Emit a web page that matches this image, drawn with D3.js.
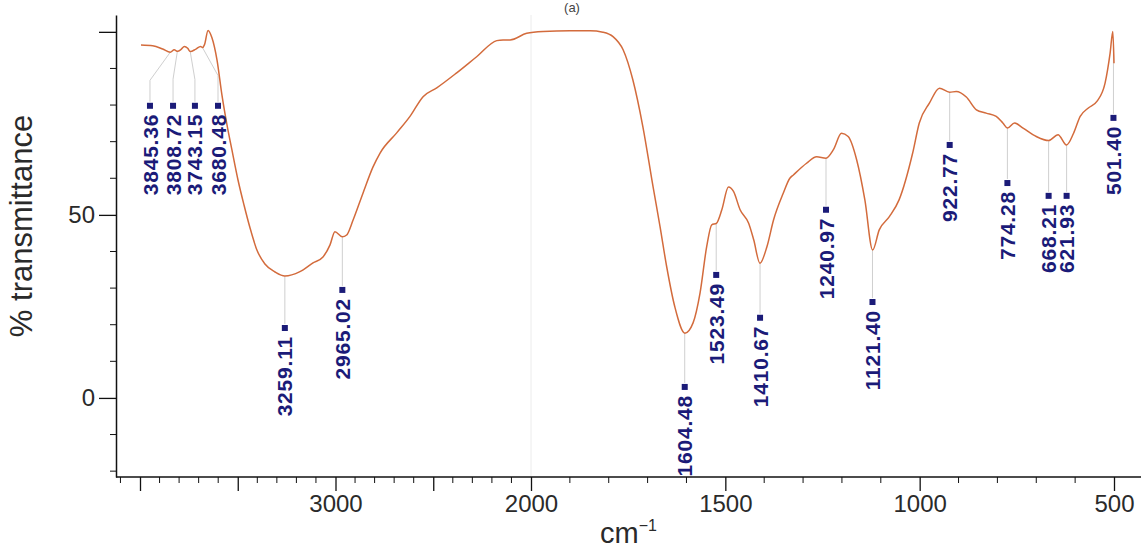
<!DOCTYPE html>
<html>
<head>
<meta charset="utf-8">
<script src="https://cdn.jsdelivr.net/npm/d3@7"></script>
<style>
    html, body {margin: 0; padding: 0; background: #fff;}
    #vis1 {width: 1141px; height: 551px; overflow: hidden;}
    text {font-family: "Liberation Sans", Arial, Helvetica, sans-serif;}
</style>
</head>
<body>
<div id="vis1"></div>
<script>
/*
Data
*/

// wavenumber (cm-1) of each traced point of the spectrum
const wavenumber = [3995, 3935, 3884, 3845, 3825, 3808, 3790, 3773, 3756, 3743,
    3714, 3690, 3680, 3670, 3652, 3632, 3606, 3581, 3555, 3530,
    3499, 3468, 3437, 3402, 3361, 3309, 3259, 3182, 3115, 3064,
    3028, 3003, 2965, 2943, 2910, 2859, 2808, 2772, 2687, 2619,
    2552, 2482, 2380, 2278, 2175, 2143, 2107, 2022, 1969, 1900,
    1848, 1815, 1789, 1763, 1738, 1712, 1686, 1668, 1651, 1630,
    1604, 1583, 1565, 1548, 1535, 1523, 1509, 1492, 1479, 1462,
    1440, 1427, 1411, 1393, 1376, 1351, 1334, 1325, 1291, 1265,
    1241, 1222, 1201, 1184, 1162, 1141, 1121, 1104, 1078, 1053,
    1018, 1001, 975, 949, 923, 906, 880, 854, 829, 803,
    786, 774, 756, 734, 700, 668, 644, 622, 604, 587,
    566, 544, 523, 510, 503, 500];

// % transmittance at those points
const transmittance = [96.4, 96.2, 95.3, 94.4, 95.1, 94.7, 95.2, 96.0, 95.5, 94.6,
    95.3, 96.0, 95.7, 96.5, 100.4, 98.4, 92.3, 82.8, 74.6, 67.8,
    59.6, 52.7, 46.4, 40.4, 36.6, 34.4, 33.3, 34.5, 36.9, 38.5,
    41.8, 45.4, 44.0, 44.5, 48.6, 56.0, 63.1, 66.9, 72.4, 76.9,
    82.3, 84.7, 88.8, 93.2, 97.6, 97.8, 97.8, 99.6, 100.1, 100.3,
    100.3, 99.9, 98.7, 95.1, 86.9, 74.0, 57.7, 46.8, 35.9, 24.9,
    17.7, 20.5, 28.7, 41.3, 47.3, 47.7, 51.4, 57.6, 56.4, 51.4,
    47.7, 43.2, 36.8, 41.3, 48.6, 55.9, 60.0, 60.9, 64.1, 65.9,
    65.5, 67.8, 72.3, 71.4, 65.0, 54.1, 40.4, 45.9, 49.5, 54.1,
    66.9, 75.1, 80.5, 84.6, 83.5, 83.7, 82.2, 78.7, 77.8, 76.9,
    75.1, 73.7, 75.1, 73.7, 71.4, 70.3, 71.9, 69.1, 72.3, 76.9,
    79.2, 81.0, 86.0, 94.2, 100.1, 91.4];

// picked peaks
const peakLabels = ["3845.36", "3808.72", "3743.15", "3680.48", "3259.11", "2965.02",
    "1604.48", "1523.49", "1410.67", "1240.97", "1121.40", "922.77",
    "774.28", "668.21", "621.93", "501.40"];

// ticks
const xMajorTicks = [4000, 3500, 3000, 2500, 2000, 1500, 1000, 500];
const xTickLabels = [3000, 2000, 1500, 1000, 500];
const yMajorTicks = [0, 50, 100];
const yTickLabels = [0, 50];

/*
Layout
*/

const WIDTH = 1141;
const HEIGHT = 551;

const margin = {top: 15, right: 0, bottom: 74, left: 116};
const width = WIDTH - margin.left - margin.right;
const height = HEIGHT - margin.top - margin.bottom;

// where each peak label box sits: [wavenumber, %T]
const labelSpots = [[3949, 79.8], [3831, 79.8], [3719, 79.8], [3601, 79.8],
    [3259.11, 19.1], [2965.02, 29.5], [1604.48, 3.0], [1523.49, 33.6],
    [1410.67, 21.9], [1240.97, 51.4], [1121.40, 26.2], [922.77, 69.1],
    [774.28, 58.7], [668.21, 55.2], [621.93, 55.2], [501.40, 76.5]];

const lineColor = "#d36b3c";
const labelColor = "#1b1b78";

/*
Scales
*/

// the instrument doubles the scale below 2000 cm-1
const x = d3.scaleLinear()
            .domain([4000, 2000, 500])
            .range([24, 415, 998]);

const y = d3.scaleLinear()
            .domain([-21.6, 104.6])
            .range([height, 0]);

/*
Functions
*/

// %T of the trace at a given wavenumber (linear between traced points)
function transmittanceAt(wn) {
    for (let i = 0; i < wavenumber.length - 1; i++) {
        const a = wavenumber[i], b = wavenumber[i + 1];
        if (wn <= a && wn >= b) {
            const t = (a - wn) / (a - b);
            return transmittance[i] + t * (transmittance[i + 1] - transmittance[i]);
        }
    }
    return transmittance[transmittance.length - 1];
}

/*
Main
*/

const svg = d3.select("#vis1")
                .append("svg")
                .attr("width", WIDTH)
                .attr("height", HEIGHT);

const plot = svg.append("g")
                .attr("transform", `translate(${margin.left}, ${margin.top})`);

// faint line where the scale changes
plot.append("line")
    .attr("x1", x(2000)).attr("x2", x(2000))
    .attr("y1", 0).attr("y2", height)
    .attr("stroke", "#ececec")
    .attr("stroke-width", 1);

// x axis
const xAxis = plot.append("g")
                .attr("transform", `translate(0, ${height})`)
                .call(d3.axisBottom(x)
                        .tickValues(xMajorTicks)
                        .tickSize(14)
                        .tickPadding(4)
                        .tickFormat(d => xTickLabels.includes(d) ? d : ""));

const xMinor = d3.range(4100, 499, -100).filter(d => !xMajorTicks.includes(d));
xAxis.selectAll("line.minor")
    .data(xMinor)
    .enter()
    .append("line")
    .attr("class", "minor")
    .attr("x1", d => x(d)).attr("x2", d => x(d))
    .attr("y1", 0).attr("y2", 6)
    .attr("stroke", "#111");

xAxis.select(".domain").remove();
xAxis.append("line")
    .attr("x1", 0).attr("x2", width)
    .attr("stroke", "#111")
    .attr("stroke-width", 1.5);

// y axis
const yAxis = plot.append("g")
                .call(d3.axisLeft(y)
                        .tickValues(yMajorTicks)
                        .tickSize(17)
                        .tickSizeOuter(0)
                        .tickPadding(4)
                        .tickFormat(d => yTickLabels.includes(d) ? d : ""));

const yMinor = d3.range(-20, 101, 10).filter(d => !yMajorTicks.includes(d));
yAxis.selectAll("line.minor")
    .data(yMinor)
    .enter()
    .append("line")
    .attr("class", "minor")
    .attr("y1", d => y(d)).attr("y2", d => y(d))
    .attr("x1", 0).attr("x2", -6)
    .attr("stroke", "#111");

yAxis.select(".domain").attr("stroke", "#111").attr("stroke-width", 1.5);

svg.selectAll(".tick line").attr("stroke", "#111").attr("stroke-width", 1.3);
svg.selectAll(".tick text")
    .attr("font-size", "24px")
    .attr("fill", "#2a2a2a")
    .style("font-family", "'Liberation Sans', Arial, sans-serif");

// axis titles
svg.append("text")
    .attr("transform", "translate(32, 226) rotate(-90)")
    .attr("text-anchor", "middle")
    .attr("font-size", "31px")
    .attr("fill", "#2a2a2a")
    .text("% transmittance");

const xTitle = svg.append("text")
                .attr("x", margin.left + width / 2)
                .attr("y", 543)
                .attr("text-anchor", "middle")
                .attr("font-size", "29px")
                .attr("fill", "#2a2a2a");
xTitle.append("tspan").text("cm");
xTitle.append("tspan")
    .attr("font-size", "16px")
    .attr("dy", -12)
    .text("\u22121");

// panel caption at the top edge
svg.append("text")
    .attr("x", 572)
    .attr("y", 12)
    .attr("text-anchor", "middle")
    .attr("font-size", "13px")
    .attr("fill", "#444")
    .text("(a)");

// leader lines from the trace to each label
const peaks = peakLabels.map((label, i) => {
    const wn = +label;
    return {
        label: label,
        px: x(wn),
        py: y(transmittanceAt(wn)),
        lx: x(labelSpots[i][0]),
        ly: y(labelSpots[i][1])
    };
});

plot.append("g")
    .attr("id", "leaders")
    .selectAll("polyline")
    .data(peaks)
    .enter()
    .append("polyline")
    .attr("points", d => {
        const top = d.ly - 4;
        if (Math.abs(d.lx - d.px) < 1) return `${d.px},${d.py} ${d.lx},${top}`;
        return `${d.px},${d.py} ${d.lx},${d.py + 28} ${d.lx},${top}`;
    })
    .attr("fill", "none")
    .attr("stroke", "#cfcfcf")
    .attr("stroke-width", 1);

// the spectrum
const line = d3.line()
                .x(d => x(d[0]))
                .y(d => y(d[1]))
                .curve(d3.curveMonotoneX);

plot.append("path")
    .datum(wavenumber.map((wn, i) => [wn, transmittance[i]]))
    .attr("d", line)
    .attr("fill", "none")
    .attr("stroke", lineColor)
    .attr("stroke-width", 1.5)
    .attr("stroke-linejoin", "round");

// peak labels
const labelNodes = plot.append("g")
                    .attr("id", "peak-labels")
                    .selectAll("g.peak")
                    .data(peaks)
                    .enter()
                    .append("g")
                    .attr("class", "peak")
                    .attr("transform", d => `translate(${d.lx}, ${d.ly})`);

labelNodes.append("rect")
    .attr("x", -3).attr("y", -3)
    .attr("width", 6).attr("height", 6)
    .attr("fill", labelColor);

labelNodes.append("text")
    .attr("transform", "rotate(-90)")
    .attr("x", -8)
    .attr("dy", "0.36em")
    .attr("text-anchor", "end")
    .attr("font-size", "21px")
    .attr("font-weight", "bold")
    .attr("letter-spacing", "0.8px")
    .attr("fill", labelColor)
    .text(d => d.label);
</script>
</body>
</html>
